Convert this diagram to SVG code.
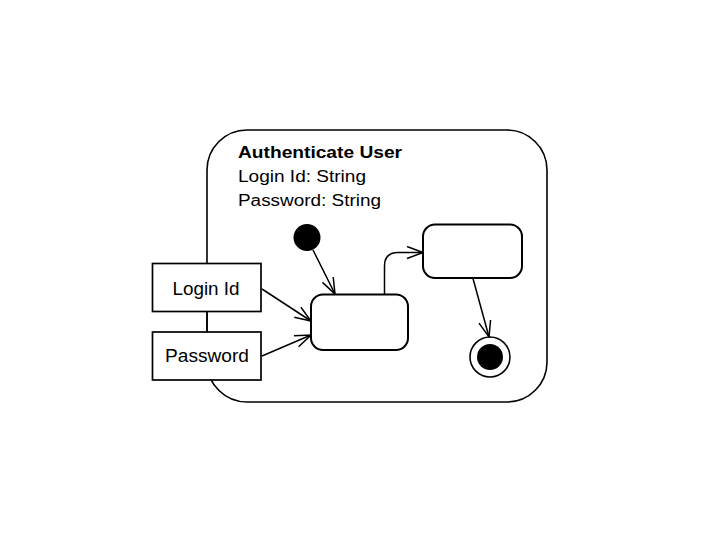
<svg xmlns="http://www.w3.org/2000/svg" width="720" height="540" viewBox="0 0 720 540">
<defs>
<style>
.frame{fill:#fff;stroke:#000;stroke-width:1.6}
.pin{fill:#fff;stroke:#000;stroke-width:1.7}
.state{fill:#fff;stroke:#000;stroke-width:2}
.edge{fill:none;stroke:#000;stroke-width:1.5}
.t{font-family:"Liberation Sans",Arial,sans-serif;font-size:16px;fill:#000}
.p{font-size:17.5px}
.b{font-weight:bold}
</style>
<marker id="open" viewBox="0 0 18 14" refX="17" refY="7" markerWidth="18" markerHeight="14" markerUnits="userSpaceOnUse" orient="auto">
<path d="M1,1 L17,7 L1,13" fill="none" stroke="#000" stroke-width="1.5"/>
</marker>
</defs>
<rect width="720" height="540" fill="#fff"/>
<g id="frame">
<rect class="frame" x="207" y="130" width="340" height="272" rx="40" ry="40"/>
<text class="t b" x="238" y="157.5" textLength="164" lengthAdjust="spacingAndGlyphs">Authenticate User</text>
<text class="t" x="238" y="182" textLength="128" lengthAdjust="spacingAndGlyphs">Login Id: String</text>
<text class="t" x="238" y="206" textLength="143" lengthAdjust="spacingAndGlyphs">Password: String</text>
</g>
<g id="pin-login">
<rect class="pin" x="152.5" y="263.5" width="108.5" height="48"/>
<text class="t p" x="172.5" y="294.5" textLength="67" lengthAdjust="spacingAndGlyphs">Login Id</text>
</g>
<g id="pin-password">
<rect class="pin" x="152.5" y="332" width="108.5" height="48"/>
<text class="t p" x="165" y="362" textLength="84" lengthAdjust="spacingAndGlyphs">Password</text>
</g>
<g id="initial">
<circle cx="307" cy="237.5" r="13.5" fill="#000"/>
</g>
<g id="state1">
<rect class="state" x="311" y="294.5" width="97" height="55.5" rx="12" ry="12"/>
</g>
<g id="state2">
<rect class="state" x="423" y="224.5" width="99" height="53.5" rx="12" ry="12"/>
</g>
<g id="final">
<circle cx="490" cy="357" r="20" fill="#fff" stroke="#000" stroke-width="1.6"/>
<circle cx="490" cy="357" r="13" fill="#000"/>
</g>
<g id="connectors">
<line class="edge" x1="313" y1="250" x2="335" y2="294" marker-end="url(#open)"/>
<line class="edge" x1="262" y1="289" x2="311" y2="321" marker-end="url(#open)"/>
<line class="edge" x1="262" y1="356" x2="311" y2="335" marker-end="url(#open)"/>
<path class="edge" d="M384.5,294.5 L384.5,266 Q384.5,252.5 398,252.5 L423,252.5" marker-end="url(#open)"/>
<line class="edge" x1="473" y1="278.5" x2="489" y2="337" marker-end="url(#open)"/>
<line class="edge" x1="207" y1="311.5" x2="207" y2="332"/>
</g>
</svg>
